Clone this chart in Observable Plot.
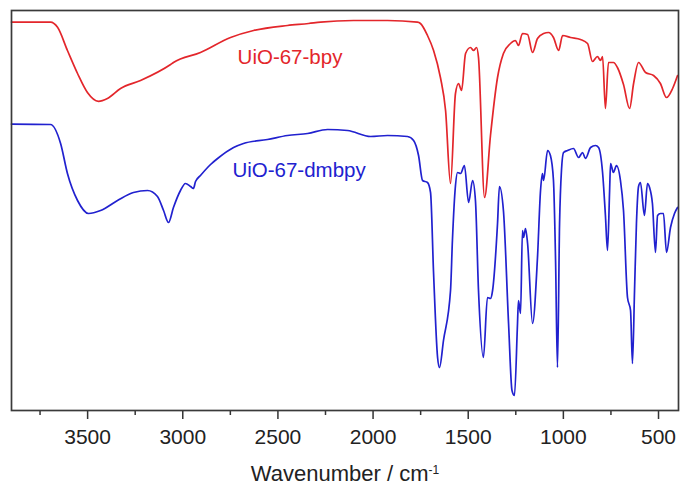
<!DOCTYPE html>
<html><head><meta charset="utf-8">
<script src="https://cdn.jsdelivr.net/npm/d3@7"></script>
<script src="https://cdn.jsdelivr.net/npm/@observablehq/plot@0.6"></script>
<style>body{margin:0;background:#fff;} #chart svg{display:block;}</style>
</head><body><div id="chart"></div>
<script>
// UiO-67-bpy (red), wavenumber (cm-1) and relative transmittance
const redWavenumber = [3900,3695,3658,3606,3553,3501,3443,3396,3327,3222,3064,3049,2907,2749,2628,2450,2339,2276,2103,1924,1767,1751,1714,1682,1646,1619,1593,1567,1551,1535,1514,1488,1472,1456,1446,1414,1383,1346,1315,1278,1252,1236,1215,1188,1162,1136,1104,1078,1052,1025,1004,962,910,873,847,821,805,794,779,763,737,716,684,652,631,605,568,526,490,458,426,400];
const redT = [97.1,97.1,95.8,90,84.25,79.5,77.3,78,80.5,82.5,86.5,87,89.5,93.25,95,96.25,96.75,97.1,97.5,97.5,97.1,96.75,93.75,90,83.25,75,56.75,79.25,81.75,80,89.25,90.75,90,90.75,88.25,53.25,68.75,83.25,89.25,91.75,92.5,91.25,94.25,94,89.5,93,94.25,94.5,93.25,90,93.75,93.25,92.75,91.75,87.25,88.5,87.5,88.5,75.5,87,87,85.75,81.5,75.5,81.75,87,84.5,83.75,81.75,78.25,80.5,83.75];

// UiO-67-dmbpy (blue)
const blueWavenumber = [3900,3695,3642,3606,3553,3495,3432,3343,3259,3185,3133,3101,3075,3049,3012,2986,2959,2944,2933,2907,2854,2817,2733,2681,2555,2450,2344,2239,2134,2013,1924,1819,1787,1761,1740,1714,1698,1682,1661,1651,1630,1593,1583,1567,1556,1540,1520,1498,1477,1462,1446,1420,1399,1383,1372,1346,1336,1315,1288,1270,1257,1241,1236,1225,1215,1209,1199,1188,1162,1136,1120,1110,1104,1083,1068,1052,1041,1031,1020,1010,999,978,947,920,899,884,857,831,815,794,779,768,757,752,737,721,700,684,663,647,637,626,616,605,595,574,558,547,532,516,505,490,474,458,437,416,400];
const blueT = [71.6,71.5,66.75,59.25,52.5,49.25,50,52.5,54.5,55,53.5,50,47,50.75,55,56.75,56,55.5,57.25,58.75,61.5,63,65.75,66.75,67.75,68.75,69.25,70.25,70,68.5,68.75,68.5,67.5,63.75,57.5,57,54.5,34.25,13.25,10.75,17.5,30,42.5,56.25,59.5,59.25,61.25,52,57.5,52.5,30,13.25,28.25,28,30,46.75,56,50,21.75,5,3.75,21.75,27.5,24.25,45,43.25,45.5,41.75,21.75,38.25,55,59.25,57.5,65,63.75,57.5,37.5,10.75,46.75,60,64.5,65,65.5,63.25,64.5,63,65.75,66.25,65.75,59.5,48.75,40,55,61.75,59.5,61.25,57.5,50,28.25,25,11.75,30,46.75,56,57,48.75,56.75,55.75,51.75,39.5,48.75,49.25,49.25,39.5,45.75,49.25,50.75];

const seriesNames = ["UiO-67-bpy", "UiO-67-dmbpy"];
const seriesColors = ["#e3262b", "#2121cf"];
const labelX = [2712, 2739];
const labelY = [88.3, 59.9];
const majorTicks = [3500, 3000, 2500, 2000, 1500, 1000, 500];
const minorTicks = [3750, 3250, 2750, 2250, 1750, 1250, 750];

const data = [
  ...redWavenumber.map((w, i) => ({series: seriesNames[0], w, t: redT[i]})),
  ...blueWavenumber.map((w, i) => ({series: seriesNames[1], w, t: blueT[i]}))
];
const labels = seriesNames.map((name, i) => ({name, x: labelX[i], y: labelY[i]}));

const chart = Plot.plot({
  width: 681, height: 485,
  marginLeft: 11, marginRight: 3, marginTop: 10, marginBottom: 75,
  style: {fontFamily: "'Liberation Sans', Arial, sans-serif", background: "#fff", color: "#222"},
  x: {domain: [3900, 395]},
  y: {domain: [0, 100], axis: null},
  color: {domain: seriesNames, range: seriesColors},
  marks: [
    Plot.line(data, {x: "w", y: "t", z: "series", stroke: "series", strokeWidth: 1.7, strokeLinejoin: "round", curve: "monotone-x"}),
    Plot.text(labels, {x: "x", y: "y", text: "name", fill: "name", textAnchor: "start", fontSize: 20.5}),
    Plot.axisX(minorTicks, {tickSize: 5, tickFormat: () => "", label: null, stroke: "#333", strokeWidth: 1.5}),
    Plot.axisX(majorTicks, {tickSize: 9, tickPadding: 10, tickFormat: d3.format("d"), fontSize: 21,
      label: "Wavenumber / cm", labelAnchor: "center", labelOffset: 70, labelArrow: false,
      stroke: "#333", strokeWidth: 1.5}),
    Plot.frame({stroke: "#3a3a3a", strokeWidth: 1.7})
  ]
});
document.getElementById("chart").appendChild(chart);

// axis title with superscript
const lab = d3.select(chart).select('g[aria-label="x-axis label"] text');
if (!lab.empty()) {
  lab.text("Wavenumber / cm").attr("font-size", 22);
  lab.append("tspan").attr("dy", "-0.55em").attr("font-size", 12).text("-1");
}
</script>
</body></html>
